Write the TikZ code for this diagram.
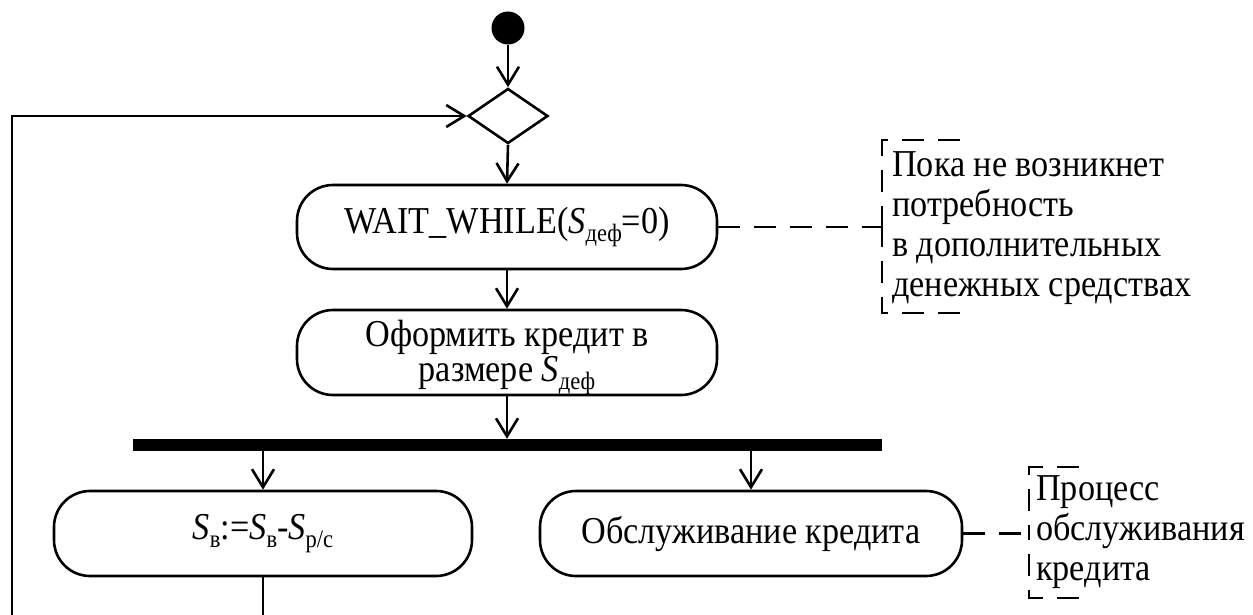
\documentclass[tikz,border=0pt]{standalone}
\usepackage{fontspec}
\setmainfont{Liberation Serif}[FakeStretch=0.9]
\usetikzlibrary{arrows.meta,shapes.geometric}
\newcommand{\Sx}[1]{\textit{S}\raisebox{-0.22em}{\fontsize{25}{25}\selectfont #1}}
\tikzset{
  line/.style={line width=2.6pt},
  arr/.style={line/.try, -{Straight Barb[length=18pt,width=22pt,line width=2.6pt]}},
  act/.style={draw, line width=2.6pt, rounded corners=36pt, inner sep=0pt, align=center,
    font=\fontsize{38}{36}\selectfont},
  boxline/.style={inner sep=0pt, anchor=base, font=\fontsize{38}{36}\selectfont},
  notetext/.style={inner sep=0pt, align=left, anchor=base west, font=\fontsize{38}{40}\selectfont},
  dsh/.style={line width=2.6pt, dash pattern=on 22pt off 14pt}
}
\begin{document}
\begin{tikzpicture}[x=1pt,y=-1pt]
\useasboundingbox (0,0) rectangle (1253,615);
\node[circle, fill=black, minimum size=33pt, inner sep=0pt] (start) at (508,28) {};
\node[diamond, draw, line width=2.6pt, minimum width=80pt, minimum height=55pt, inner sep=0pt] (merge) at (508,116) {};
\node[act, minimum width=420pt, minimum height=84pt] (wait) at (507,227) {WAIT\_WHILE(\Sx{деф}=0)};
\node[act, minimum width=420pt, minimum height=85pt] (credit) at (507,352.5) {};
\node[boxline] (cr1) at (507,346) {Оформить кредит в};
\node[boxline] (cr2) at (507,381) {размере \Sx{деф}};
\node[fill=black, minimum width=749pt, minimum height=12pt, inner sep=0pt] (bar) at (507.5,445) {};
\node[act, minimum width=418pt, minimum height=85pt] (sv) at (263,533.5) {\Sx{в}:=\Sx{в}-\Sx{р/с}};
\node[act, minimum width=422pt, minimum height=85pt] (serv) at (751,533.5) {Обслуживание кредита};
\node[notetext] (note1) at (892,296) {Пока не возникнет\\потребность\\в дополнительных\\денежных средствах};
\node[notetext] (note2) at (1036,580) {Процесс\\обслуживания\\кредита};
\coordinate (lb) at (12,615);
\coordinate (lc) at (12,116);
\coordinate (sb) at (263,615);
\coordinate (b1m) at (882,227);
\coordinate (b1t) at (960,140);
\coordinate (b1a) at (882,140);
\coordinate (b1b) at (882,313);
\coordinate (b1e) at (960,313);
\coordinate (b2m) at (1029,533.5);
\coordinate (b2t) at (1079,467);
\coordinate (b2a) at (1029,467);
\coordinate (b2b) at (1029,598);
\coordinate (b2e) at (1079,598);
\draw[arr] (start) -- (merge.north);
\draw[arr] (merge.south) -- (wait.north);
\draw[arr] (wait.south) -- (credit.north);
\draw[arr] (credit.south) -- (credit.south |- bar.north);
\draw[arr] (bar.south -| sv.north) -- (sv.north);
\draw[arr] (bar.south -| serv.north) -- (serv.north);
\draw[arr] (lb) -- (lc) -- (merge.west);
\draw[line] (sv.south) -- (sb);
\draw[dsh] (wait.east) -- (b1m);
\draw[dsh] (b1t) -- (b1a) -- (b1m);
\draw[dsh] (b1e) -- (b1b) -- (b1m);
\draw[dsh] (serv.east) -- (b2m);
\draw[dsh] (b2t) -- (b2a) -- (b2m);
\draw[dsh] (b2e) -- (b2b) -- (b2m);
\end{tikzpicture}
\end{document}
